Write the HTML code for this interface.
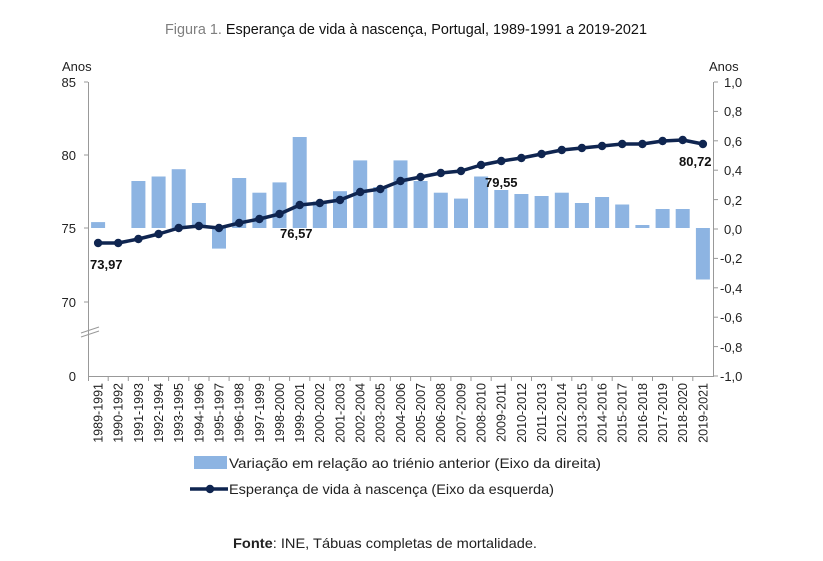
<!DOCTYPE html>
<html><head><meta charset="utf-8"><style>
body{margin:0;background:#fff;}
svg{display:block;font-family:"Liberation Sans",sans-serif;}
</style></head><body>
<svg width="823" height="561" viewBox="0 0 823 561" xmlns="http://www.w3.org/2000/svg">
<text x="165" y="34" font-size="14.5" textLength="482" lengthAdjust="spacingAndGlyphs"><tspan fill="#7f7f7f">Figura 1. </tspan><tspan fill="#111">Esperança de vida à nascença, Portugal, 1989-1991 a 2019-2021</tspan></text>
<g fill="#222" font-size="13">
<text x="62" y="71">Anos</text>
<text x="709" y="71">Anos</text>
<g text-anchor="end">
<text x="76" y="87">85</text><text x="76" y="160">80</text><text x="76" y="233">75</text><text x="76" y="307">70</text><text x="76" y="381">0</text>
</g>
<g>
<text x="724" y="87">1,0</text><text x="724" y="116">0,8</text><text x="724" y="146">0,6</text><text x="724" y="175">0,4</text><text x="724" y="205">0,2</text><text x="724" y="234">0,0</text><text x="720" y="263">-0,2</text><text x="720" y="293">-0,4</text><text x="720" y="322">-0,6</text><text x="720" y="352">-0,8</text><text x="720" y="381">-1,0</text>
</g>
</g>
<g stroke="#999" stroke-width="1">
<line x1="88.5" y1="82" x2="88.5" y2="376"/>
<line x1="713.5" y1="82" x2="713.5" y2="376"/>
<line x1="88" y1="376.5" x2="714" y2="376.5"/>
<line x1="84" y1="82" x2="88" y2="82"/><line x1="84" y1="155" x2="88" y2="155"/><line x1="84" y1="228" x2="88" y2="228"/><line x1="84" y1="302" x2="88" y2="302"/>
<line x1="714" y1="82" x2="718" y2="82"/><line x1="714" y1="111.4" x2="718" y2="111.4"/><line x1="714" y1="140.8" x2="718" y2="140.8"/><line x1="714" y1="170.2" x2="718" y2="170.2"/><line x1="714" y1="199.6" x2="718" y2="199.6"/><line x1="714" y1="229" x2="718" y2="229"/><line x1="714" y1="258.4" x2="718" y2="258.4"/><line x1="714" y1="287.8" x2="718" y2="287.8"/><line x1="714" y1="317.2" x2="718" y2="317.2"/><line x1="714" y1="346.6" x2="718" y2="346.6"/><line x1="714" y1="376" x2="718" y2="376"/>
<line x1="81" y1="333" x2="99" y2="327"/><line x1="81" y1="337" x2="99" y2="331"/>
</g>
<g stroke="#999">
<path d="M108.2 376v5M128.3 376v5M148.5 376v5M168.6 376v5M188.8 376v5M209 376v5M229.1 376v5M249.3 376v5M269.4 376v5M289.6 376v5M309.8 376v5M329.9 376v5M350.1 376v5M370.2 376v5M390.4 376v5M410.6 376v5M430.7 376v5M450.9 376v5M471 376v5M491.2 376v5M511.4 376v5M531.5 376v5M551.7 376v5M571.8 376v5M592 376v5M612.2 376v5M632.3 376v5M652.5 376v5M672.6 376v5M692.8 376v5M88.5 376v5"/>
</g>
<g fill="#8db4e2">
<rect x="91.1" y="222.1" width="14" height="5.9"/>
<rect x="131.4" y="181" width="14" height="47"/>
<rect x="151.6" y="176.5" width="14" height="51.5"/>
<rect x="171.7" y="169.2" width="14" height="58.8"/>
<rect x="191.9" y="203" width="14" height="25"/>
<rect x="212" y="228" width="14" height="20.6"/>
<rect x="232.2" y="178" width="14" height="50"/>
<rect x="252.4" y="192.7" width="14" height="35.3"/>
<rect x="272.5" y="182.4" width="14" height="45.6"/>
<rect x="292.7" y="137" width="14" height="91"/>
<rect x="312.8" y="201.5" width="14" height="26.5"/>
<rect x="333" y="191.2" width="14" height="36.8"/>
<rect x="353.2" y="160.4" width="14" height="67.6"/>
<rect x="373.3" y="187" width="14" height="41"/>
<rect x="393.5" y="160.4" width="14" height="67.6"/>
<rect x="413.6" y="181" width="14" height="47"/>
<rect x="433.8" y="192.7" width="14" height="35.3"/>
<rect x="454" y="198.6" width="14" height="29.4"/>
<rect x="474.1" y="176.5" width="14" height="51.5"/>
<rect x="494.3" y="190" width="14" height="38"/>
<rect x="514.4" y="194" width="14" height="34"/>
<rect x="534.6" y="196" width="14" height="32"/>
<rect x="554.8" y="192.7" width="14" height="35.3"/>
<rect x="574.9" y="203" width="14" height="25"/>
<rect x="595.1" y="197" width="14" height="31"/>
<rect x="615.2" y="204.5" width="14" height="23.5"/>
<rect x="635.4" y="225" width="14" height="3"/>
<rect x="655.6" y="209" width="14" height="19"/>
<rect x="675.7" y="209" width="14" height="19"/>
<rect x="695.9" y="228" width="14" height="51.5"/>
</g>
<polyline fill="none" stroke="#0f2550" stroke-width="3.5" stroke-linejoin="round" points="98.1,243 118.2,243 138.4,239 158.6,234 178.7,228 198.9,226 219,228 239.2,223 259.4,219 279.5,214 299.7,205 319.8,203 340,200 360.2,192 380.3,189 400.5,181 420.6,177 440.8,173 461,171 481.1,165 501.3,161 521.4,158 541.6,154 561.8,150 581.9,148 602.1,146 622.2,144 642.4,144 662.6,141 682.7,140 702.9,144"/>
<g fill="#0f2550">
<circle cx="98.1" cy="243" r="4.2"/><circle cx="118.2" cy="243" r="4.2"/><circle cx="138.4" cy="239" r="4.2"/><circle cx="158.6" cy="234" r="4.2"/><circle cx="178.7" cy="228" r="4.2"/><circle cx="198.9" cy="226" r="4.2"/><circle cx="219" cy="228" r="4.2"/><circle cx="239.2" cy="223" r="4.2"/><circle cx="259.4" cy="219" r="4.2"/><circle cx="279.5" cy="214" r="4.2"/><circle cx="299.7" cy="205" r="4.2"/><circle cx="319.8" cy="203" r="4.2"/><circle cx="340" cy="200" r="4.2"/><circle cx="360.2" cy="192" r="4.2"/><circle cx="380.3" cy="189" r="4.2"/><circle cx="400.5" cy="181" r="4.2"/><circle cx="420.6" cy="177" r="4.2"/><circle cx="440.8" cy="173" r="4.2"/><circle cx="461" cy="171" r="4.2"/><circle cx="481.1" cy="165" r="4.2"/><circle cx="501.3" cy="161" r="4.2"/><circle cx="521.4" cy="158" r="4.2"/><circle cx="541.6" cy="154" r="4.2"/><circle cx="561.8" cy="150" r="4.2"/><circle cx="581.9" cy="148" r="4.2"/><circle cx="602.1" cy="146" r="4.2"/><circle cx="622.2" cy="144" r="4.2"/><circle cx="642.4" cy="144" r="4.2"/><circle cx="662.6" cy="141" r="4.2"/><circle cx="682.7" cy="140" r="4.2"/><circle cx="702.9" cy="144" r="4.2"/>
</g>
<g font-size="13" font-weight="bold" fill="#111">
<text x="90" y="269">73,97</text>
<text x="280" y="238">76,57</text>
<text x="485" y="187">79,55</text>
<text x="679" y="166">80,72</text>
</g>
<g font-size="12.5" fill="#222" text-anchor="end">
<text transform="translate(102.5,383) rotate(-90)">1989-1991</text>
<text transform="translate(122.6,383) rotate(-90)">1990-1992</text>
<text transform="translate(142.8,383) rotate(-90)">1991-1993</text>
<text transform="translate(163,383) rotate(-90)">1992-1994</text>
<text transform="translate(183.1,383) rotate(-90)">1993-1995</text>
<text transform="translate(203.3,383) rotate(-90)">1994-1996</text>
<text transform="translate(223.4,383) rotate(-90)">1995-1997</text>
<text transform="translate(243.6,383) rotate(-90)">1996-1998</text>
<text transform="translate(263.8,383) rotate(-90)">1997-1999</text>
<text transform="translate(283.9,383) rotate(-90)">1998-2000</text>
<text transform="translate(304.1,383) rotate(-90)">1999-2001</text>
<text transform="translate(324.2,383) rotate(-90)">2000-2002</text>
<text transform="translate(344.4,383) rotate(-90)">2001-2003</text>
<text transform="translate(364.6,383) rotate(-90)">2002-2004</text>
<text transform="translate(384.7,383) rotate(-90)">2003-2005</text>
<text transform="translate(404.9,383) rotate(-90)">2004-2006</text>
<text transform="translate(425,383) rotate(-90)">2005-2007</text>
<text transform="translate(445.2,383) rotate(-90)">2006-2008</text>
<text transform="translate(465.4,383) rotate(-90)">2007-2009</text>
<text transform="translate(485.5,383) rotate(-90)">2008-2010</text>
<text transform="translate(505.7,383) rotate(-90)">2009-2011</text>
<text transform="translate(525.8,383) rotate(-90)">2010-2012</text>
<text transform="translate(546,383) rotate(-90)">2011-2013</text>
<text transform="translate(566.2,383) rotate(-90)">2012-2014</text>
<text transform="translate(586.3,383) rotate(-90)">2013-2015</text>
<text transform="translate(606.5,383) rotate(-90)">2014-2016</text>
<text transform="translate(626.6,383) rotate(-90)">2015-2017</text>
<text transform="translate(646.8,383) rotate(-90)">2016-2018</text>
<text transform="translate(667,383) rotate(-90)">2017-2019</text>
<text transform="translate(687.1,383) rotate(-90)">2018-2020</text>
<text transform="translate(707.3,383) rotate(-90)">2019-2021</text>
</g>
<rect x="194" y="456" width="33" height="13" fill="#8db4e2"/>
<text x="229" y="468" font-size="14" fill="#222" textLength="372" lengthAdjust="spacingAndGlyphs">Variação em relação ao triénio anterior (Eixo da direita)</text>
<line x1="190" y1="489" x2="228" y2="489" stroke="#0f2550" stroke-width="3.5"/>
<circle cx="210" cy="489" r="4.2" fill="#0f2550"/>
<text x="229" y="494" font-size="14" fill="#222" textLength="325" lengthAdjust="spacingAndGlyphs">Esperança de vida à nascença (Eixo da esquerda)</text>
<text x="233" y="548" font-size="14" fill="#222" textLength="304" lengthAdjust="spacingAndGlyphs"><tspan font-weight="bold">Fonte</tspan>: INE, Tábuas completas de mortalidade.</text>
</svg>
</body></html>
